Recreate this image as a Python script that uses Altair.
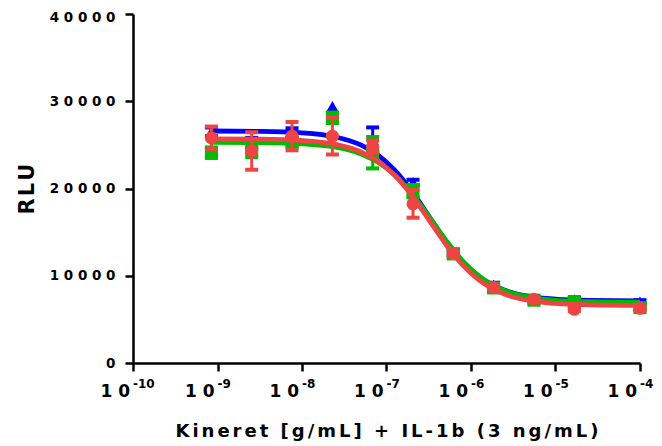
import altair as alt
import pandas as pd

# concentrations (g/mL)
conc = [8.47e-10, 2.54e-9, 7.62e-9, 2.29e-8, 6.86e-8, 2.06e-7, 6.17e-7, 1.85e-6, 5.56e-6, 1.67e-5, 1.0e-4]

blue_mean = [26500, 25200, 26300, 29400, 25600, 20700, 12700, 8900, 7400, 7250, 7000]
blue_err = [500, 600, 600, None, 1400, 300, 300, 300, 200, 200, 200]
green_mean = [24100, 24500, 25300, 28100, 24100, 19700, 12500, 8600, 7200, 7050, 6350]
green_err = [600, 900, 500, 600, 1800, 700, 400, 300, 300, 300, 300]
red_mean = [25800, 24300, 26000, 26000, 24800, 18240, 12550, 8650, 7300, 6150, 6270]
red_err = [1300, 2150, 1620, 2100, 700, 1590, 300, 200, 200, 200, 200]

# fitted curves (log10 concentration, RLU)
curve_logx = [-9.07, -8.5, -8.0, -7.6, -7.3, -7.1, -6.9, -6.7, -6.5, -6.3, -6.1, -5.9, -5.6, -5.3, -5.0, -4.6, -4.0]
blue_curve = [26591, 26551, 26384, 25902, 24970, 23823, 22076, 19685, 16850, 14015, 11624, 9875, 8335, 7623, 7316, 7166, 7111]
green_curve = [25293, 25260, 25124, 24731, 23964, 23006, 21515, 19406, 16810, 14099, 11715, 9915, 8286, 7519, 7186, 7022, 6962]
red_curve = [25692, 25655, 25500, 25054, 24190, 23118, 21470, 19185, 16437, 13637, 11237, 9461, 7879, 7143, 6825, 6668, 6611]

x_ticks = [1e-10, 1e-9, 1e-8, 1e-7, 1e-6, 1e-5, 1e-4]
x_tick_base = ["1 0"] * 7
x_tick_exp = ["-10", "-9", "-8", "-7", "-6", "-5", "-4"]
y_ticks = [0, 10000, 20000, 30000, 40000]

series = [
    ("blue", "#0000ff", "triangle-up", 160, blue_mean, blue_err, blue_curve),
    ("green", "#00bb00", "square", 170, green_mean, green_err, green_curve),
    ("red", "#f04444", "circle", 170, red_mean, red_err, red_curve),
]

FONT = "DejaVu Sans"
W, H = 507, 349

xscale = alt.Scale(type="log", domain=[1e-10, 1e-4])
yscale = alt.Scale(domain=[0, 40000])

title_x = "Kineret [g/mL] + IL-1b (3 ng/mL)"
title_x_sp = "\u2006".join(title_x)
title_y = "\u200a".join("RLU")

xaxis = alt.Axis(values=x_ticks, labels=False, title=title_x_sp, titleFont=FONT,
                 titleFontSize=18, titleFontWeight="bold", titlePadding=50, titleColor="black",
                 tickSize=8, tickWidth=2.5, tickColor="black", domainColor="black",
                 domainWidth=2.5, grid=False)
yaxis = alt.Axis(values=y_ticks, format="d", labelExpr="join(split(datum.label, ''), ' ')",
                 labelFont=FONT, labelFontSize=13.5, labelFontWeight="bold", labelColor="black",
                 labelOffset={"condition": {"test": "datum.value >= 40000", "value": 3}, "value": 0},
                 labelPadding=10, title=title_y, titleFont=FONT, titleFontSize=21, titleColor="black",
                 titleFontWeight="bold", titlePadding=12, tickSize=8, tickWidth=2.5,
                 tickColor="black", domainColor="black", domainWidth=2.5, grid=False)


def X(field):
    return alt.X(field, type="quantitative", scale=xscale, axis=xaxis)


def Y(field):
    return alt.Y(field, type="quantitative", scale=yscale, axis=yaxis)


layers = []
for name, color, shape, size, mean, err, curve in series:
    cdf = pd.DataFrame({"logx": curve_logx, "y": curve})
    pdf = pd.DataFrame({"x": conc, "m": mean, "e": err})
    line = alt.Chart(cdf).transform_calculate(x="pow(10, datum.logx)").mark_line(
        color=color, strokeWidth=4.8, interpolate="monotone"
    ).encode(x=X("x"), y=Y("y"))
    base = alt.Chart(pdf).transform_calculate(lo="datum.m - datum.e", hi="datum.m + datum.e")
    ebase = base.transform_filter("isValid(datum.e) && isFinite(datum.e)")
    stem = ebase.mark_rule(color=color, strokeWidth=3).encode(x=X("x"), y=Y("lo"), y2="hi:Q")
    cap_lo = ebase.mark_tick(color=color, thickness=4, size=13, orient="horizontal", opacity=1).encode(
        x=X("x"), y=Y("lo"))
    cap_hi = ebase.mark_tick(color=color, thickness=4, size=13, orient="horizontal", opacity=1).encode(
        x=X("x"), y=Y("hi"))
    pts = base.mark_point(shape=shape, size=size, filled=True, color=color, opacity=1).encode(
        x=X("x"), y=Y("m"))
    layers += [line, stem, cap_lo, cap_hi, pts]

tdf = pd.DataFrame({"x": x_ticks, "b": x_tick_base, "p": x_tick_exp})
tbase = alt.Chart(tdf).mark_text(font=FONT, fontSize=17, fontWeight="bold", align="right",
                                 baseline="alphabetic", dx=-3, color="black").encode(
    x=X("x"), y=alt.value(H + 33.5), text="b:N"
)
texp = alt.Chart(tdf).mark_text(font=FONT, fontSize=12, fontWeight="bold", align="left",
                                baseline="alphabetic", dx=0, color="black").encode(
    x=X("x"), y=alt.value(H + 24.5), text="p:N"
)
layers += [tbase, texp]

chart = alt.layer(*layers).properties(
    width=W, height=H,
    autosize=alt.AutoSizeParams(type="none"),
    padding={"left": 125, "top": 6, "right": 14, "bottom": 80},
).configure(background="white").configure_view(strokeWidth=0)

chart.save("out.html", embed_options={"renderer": "svg", "actions": False})
